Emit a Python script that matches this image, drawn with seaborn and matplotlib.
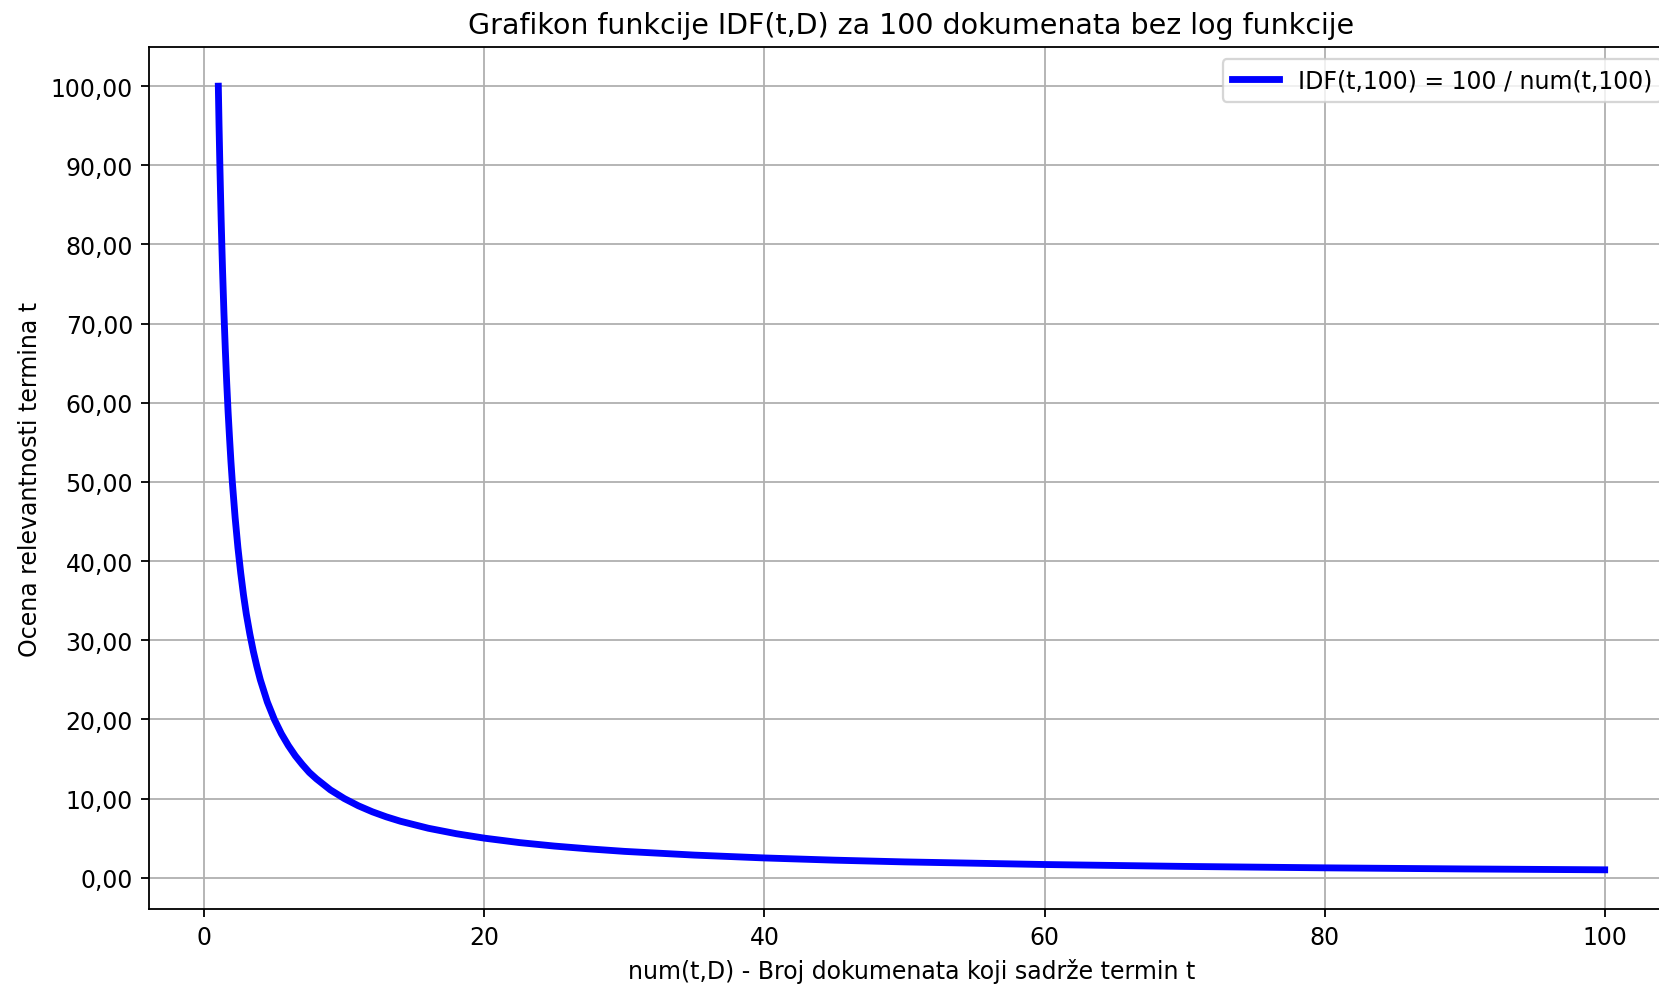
import matplotlib
matplotlib.use("Agg")
import matplotlib.pyplot as plt
import seaborn as sns
import pandas as pd
from matplotlib.ticker import FuncFormatter

# values
num_docs = [1, 1.05, 1.1, 1.15, 1.2, 1.25, 1.3, 1.4, 1.5, 1.6, 1.7, 1.8, 1.9, 2, 2.2, 2.4, 2.6, 2.8,
            3, 3.25, 3.5, 3.75, 4, 4.5, 5, 5.5, 6, 6.5, 7, 7.5, 8, 9, 10, 11, 12, 13, 14, 16, 18,
            20, 22.5, 25, 27.5, 30, 35, 40, 45, 50, 60, 70, 80, 90, 100]
idf_vals = [100.0, 95.2, 90.9, 87.0, 83.3, 80.0, 76.9, 71.4, 66.7, 62.5, 58.8, 55.6, 52.6, 50.0,
            45.5, 41.7, 38.5, 35.7, 33.3, 30.8, 28.6, 26.7, 25.0, 22.2, 20.0, 18.2, 16.7, 15.4,
            14.3, 13.3, 12.5, 11.1, 10.0, 9.09, 8.33, 7.69, 7.14, 6.25, 5.56, 5.0, 4.44, 4.0,
            3.64, 3.33, 2.86, 2.5, 2.22, 2.0, 1.67, 1.43, 1.25, 1.11, 1.0]
series_label = "IDF(t,100) = 100 / num(t,100)"
title = "Grafikon funkcije IDF(t,D) za 100 dokumenata bez log funkcije"
xlabel = "num(t,D) - Broj dokumenata koji sadrže termin t"
ylabel = "Ocena relevantnosti termina t"

df = pd.DataFrame({"x": num_docs, "y": idf_vals})

DPI = 164
fs = 10.4
fig = plt.figure(figsize=(1659 / DPI, 986 / DPI), dpi=DPI)
ax = fig.add_axes([149 / 1659, 1 - 910 / 986, (1674 - 149) / 1659, (910 - 48) / 986])

sns.lineplot(data=df, x="x", y="y", ax=ax, color="blue", linewidth=3, label=series_label, sort=True)

ax.set_title(title, fontsize=12.5)
ax.set_xlabel(xlabel, fontsize=fs)
ax.set_ylabel(ylabel, fontsize=fs)
ax.set_yticks([0, 10, 20, 30, 40, 50, 60, 70, 80, 90, 100])
ax.set_xticks([0, 20, 40, 60, 80, 100])
ax.tick_params(labelsize=fs)
ax.yaxis.set_major_formatter(FuncFormatter(lambda v, p: f"{v:.2f}".replace(".", ",")))
ax.set_xlim(-3.95, 104.95)
ax.set_ylim(-3.95, 104.95)
ax.grid(True)
ax.legend(loc="upper right", fontsize=fs)

fig.savefig("out.png", dpi=DPI)
